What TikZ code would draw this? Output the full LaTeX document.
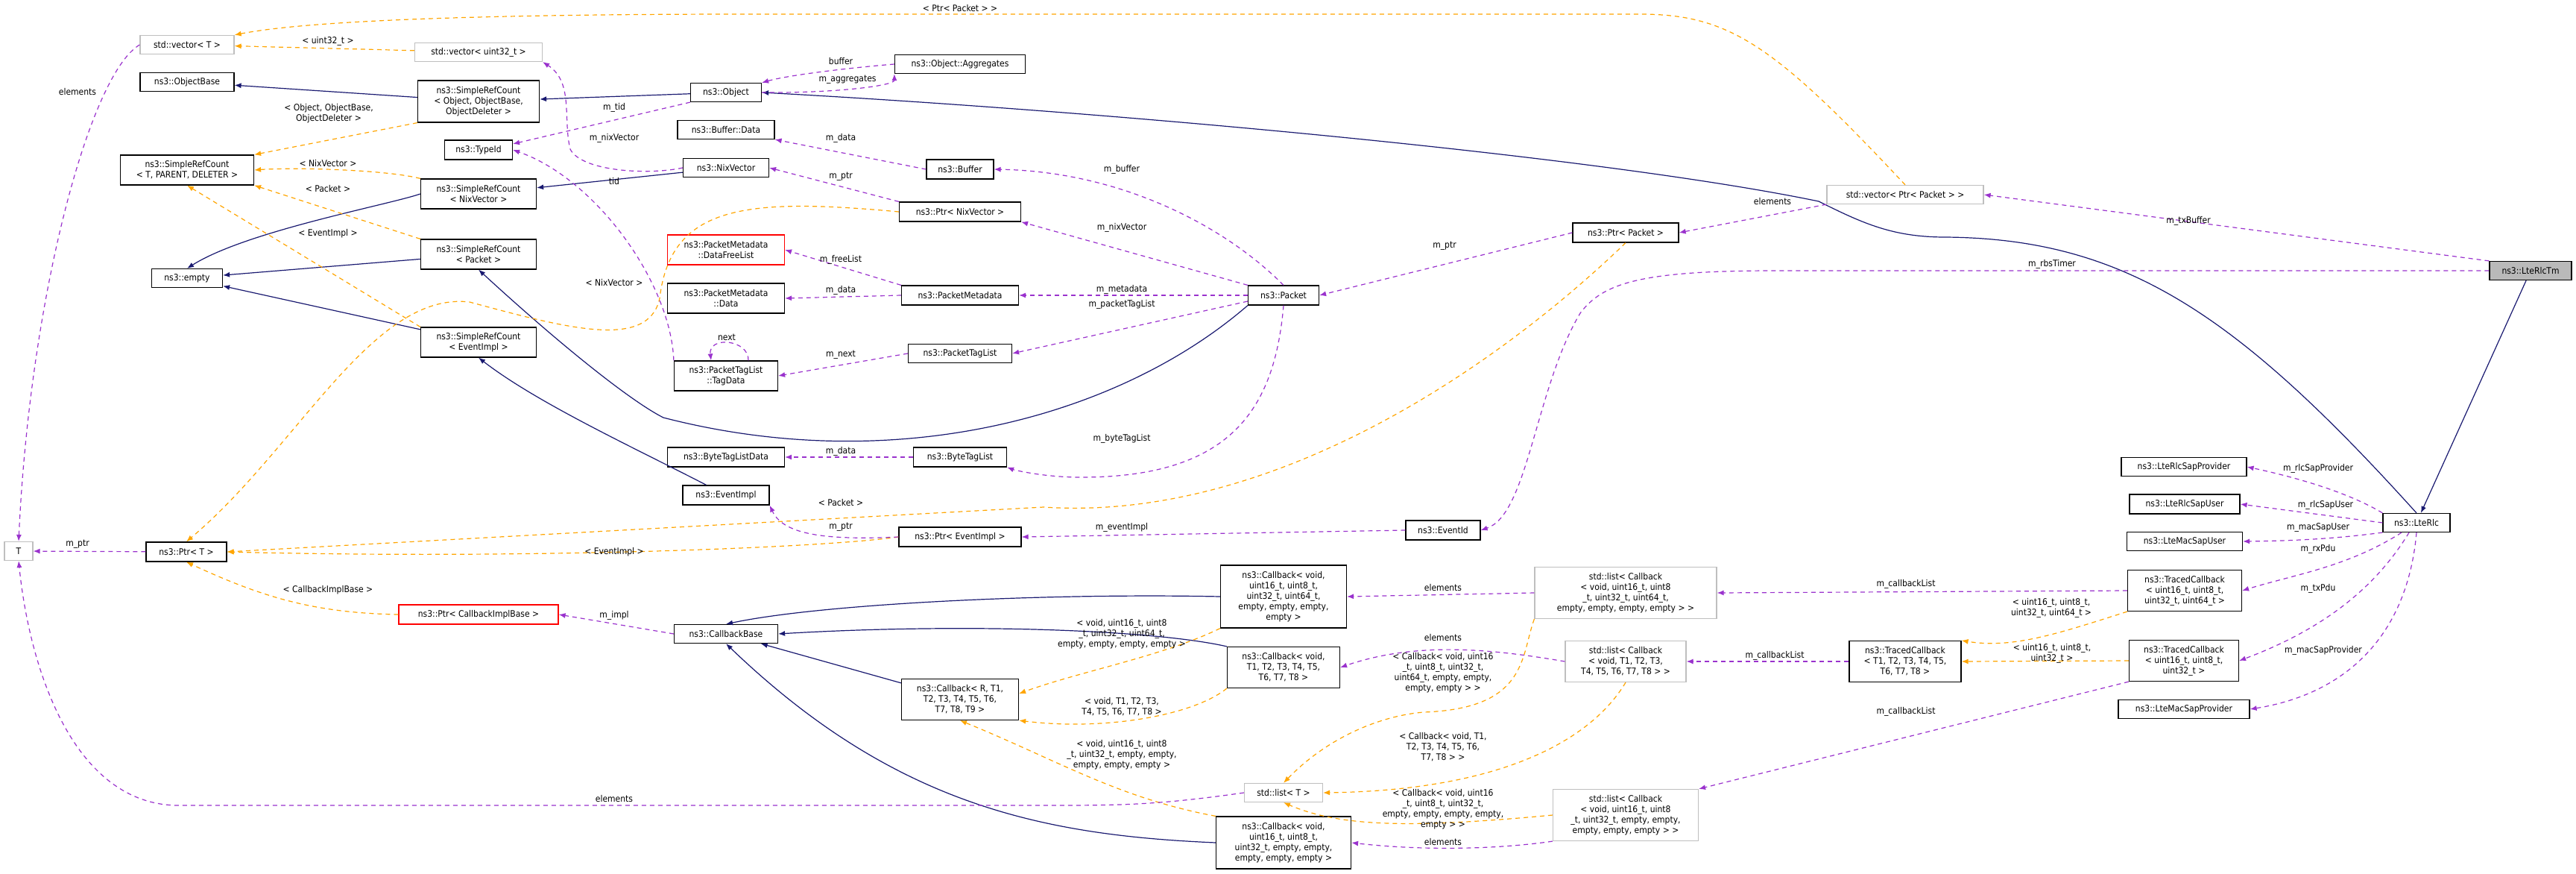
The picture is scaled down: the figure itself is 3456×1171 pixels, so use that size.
\documentclass[tikz,border=0pt]{standalone}
\usepackage{fontspec}
\setmainfont{DejaVu Sans Condensed}
\usetikzlibrary{arrows.meta}
\definecolor{inh}{HTML}{191970}
\definecolor{mem}{HTML}{9A32CD}
\definecolor{tpl}{HTML}{FFA500}
\definecolor{gbd}{HTML}{BFBFBF}
\tikzset{
 every node/.style={font=\fontsize{12}{14}\selectfont},
 box/.style={draw=black,line width=1.2pt,fill=white,inner sep=1pt,align=center},
 gbox/.style={box,draw=gbd},
 rbox/.style={box,draw=red},
 lbl/.style={inner sep=0pt,align=center,fill=none},
 tip/.style={-{Latex[length=9pt,width=7pt]}},
 ih/.style={tip,draw=inh,line width=1.2pt},
 mb/.style={tip,draw=mem,line width=1.2pt,dash pattern=on 6pt off 5pt},
 tp/.style={tip,draw=tpl,line width=1.2pt,dash pattern=on 6pt off 5pt},
}
\newcommand\bx[6]{\node[#1,minimum width=#4pt,minimum height=#5pt] (#2) at #3 {#6};}
\begin{document}
\begin{tikzpicture}[x=1pt,y=-1pt]
\useasboundingbox (0,0) rectangle (3456,1171);
% nodes
\bx{gbox}{vecT}{(251,60)}{126}{25}{std::vector< T >}
\bx{gbox}{vecU}{(642,70)}{171}{25}{std::vector< uint32\_t >}
\bx{box}{objbase}{(251,110)}{126}{25}{ns3::ObjectBase}
\bx{box}{srcobj}{(642,136)}{163}{56}{ns3::SimpleRefCount\\< Object, ObjectBase,\\ObjectDeleter >}
\bx{box}{srctpd}{(251,228)}{179}{40}{ns3::SimpleRefCount\\< T, PARENT, DELETER >}
\bx{box}{typeid}{(642,201)}{91}{26}{ns3::TypeId}
\bx{box}{srcnix}{(642,260)}{155}{40}{ns3::SimpleRefCount\\< NixVector >}
\bx{box}{empty}{(251,373)}{95}{25}{ns3::empty}
\bx{box}{srcpkt}{(642,341)}{155}{40}{ns3::SimpleRefCount\\< Packet >}
\bx{box}{srcev}{(642,459)}{155}{40}{ns3::SimpleRefCount\\< EventImpl >}
\bx{gbox}{T}{(25,739)}{38}{25}{T}
\bx{box}{ptrT}{(250,740)}{108}{26}{ns3::Ptr< T >}
\bx{rbox}{ptrcib}{(642,824)}{214}{26}{ns3::Ptr< CallbackImplBase >}
\bx{box}{object}{(974,124)}{95}{25}{ns3::Object}
\bx{box}{aggr}{(1288,86)}{175}{25}{ns3::Object::Aggregates}
\bx{box}{bufdata}{(974,174)}{130}{25}{ns3::Buffer::Data}
\bx{box}{nix}{(974,225)}{115}{25}{ns3::NixVector}
\bx{box}{buffer}{(1288,227)}{90}{26}{ns3::Buffer}
\bx{box}{ptrnix}{(1288,284)}{163}{26}{ns3::Ptr< NixVector >}
\bx{rbox}{freelist}{(974,335)}{157}{40}{ns3::PacketMetadata\\::DataFreeList}
\bx{box}{pmdata}{(974,400)}{157}{40}{ns3::PacketMetadata\\::Data}
\bx{box}{pm}{(1288,396)}{157}{26}{ns3::PacketMetadata}
\bx{box}{tagdata}{(974,504)}{139}{40}{ns3::PacketTagList\\::TagData}
\bx{box}{ptl}{(1288,474)}{139}{25}{ns3::PacketTagList}
\bx{box}{packet}{(1722,396)}{95}{26}{ns3::Packet}
\bx{box}{btld}{(974,613)}{157}{26}{ns3::ByteTagListData}
\bx{box}{btl}{(1288,613)}{125}{26}{ns3::ByteTagList}
\bx{box}{evimpl}{(974,664)}{116}{26}{ns3::EventImpl}
\bx{box}{ptrev}{(1288,720)}{164}{26}{ns3::Ptr< EventImpl >}
\bx{box}{cbbase}{(974,850)}{139}{25}{ns3::CallbackBase}
\bx{box}{cbR}{(1288,938)}{157}{55}{ns3::Callback< R, T1,\\T2, T3, T4, T5, T6,\\T7, T8, T9 >}
\bx{box}{cb64}{(1722,800)}{169}{84}{ns3::Callback< void,\\uint16\_t, uint8\_t,\\uint32\_t, uint64\_t,\\empty, empty, empty,\\empty >}
\bx{box}{cbT}{(1722,895)}{151}{55}{ns3::Callback< void,\\T1, T2, T3, T4, T5,\\T6, T7, T8 >}
\bx{box}{cbE}{(1722,1130)}{181}{70}{ns3::Callback< void,\\uint16\_t, uint8\_t,\\uint32\_t, empty, empty,\\empty, empty, empty >}
\bx{gbox}{listT}{(1722,1063)}{105}{25}{std::list< T >}
\bx{gbox}{vecpp}{(2556,261)}{210}{25}{std::vector< Ptr< Packet > >}
\bx{box}{ptrpkt}{(2181,312)}{142}{26}{ns3::Ptr< Packet >}
\bx{box}{evid}{(1936,711)}{100}{26}{ns3::EventId}
\bx{gbox}{l64}{(2181,795)}{244}{69}{std::list< Callback\\< void, uint16\_t, uint8\\\_t, uint32\_t, uint64\_t,\\empty, empty, empty, empty > >}
\bx{gbox}{lT}{(2181,887)}{162}{55}{std::list< Callback\\< void, T1, T2, T3,\\T4, T5, T6, T7, T8 > >}
\bx{gbox}{lE}{(2181,1093)}{195}{69}{std::list< Callback\\< void, uint16\_t, uint8\\\_t, uint32\_t, empty, empty,\\empty, empty, empty > >}
\bx{box}{tcT}{(2556,887)}{150}{55}{ns3::TracedCallback\\< T1, T2, T3, T4, T5,\\T6, T7, T8 >}
\bx{box}{tc64}{(2931,792)}{153}{55}{ns3::TracedCallback\\< uint16\_t, uint8\_t,\\uint32\_t, uint64\_t >}
\bx{box}{tc32}{(2930,886)}{147}{55}{ns3::TracedCallback\\< uint16\_t, uint8\_t,\\uint32\_t >}
\bx{box}{sapP}{(2930,626)}{168}{25}{ns3::LteRlcSapProvider}
\bx{box}{sapU}{(2931,676)}{148}{26}{ns3::LteRlcSapUser}
\bx{box}{macU}{(2931,726)}{155}{25}{ns3::LteMacSapUser}
\bx{box}{macP}{(2930,951)}{176}{25}{ns3::LteMacSapProvider}
\bx{box}{lterlc}{(3242,701)}{90}{25}{ns3::LteRlc}
\node[box,fill=gray!55,minimum width=110pt,minimum height=25pt] (rlctm) at (3395,363) {ns3::LteRlcTm};

% inheritance
\draw[ih] (srcobj) -- (objbase);
\draw[ih] (object) -- (srcobj);
\draw[ih] (srcnix.west) .. controls (520,275) and (330,310) .. (empty.north);
\draw[ih] (srcpkt) -- (empty);
\draw[ih] (srcev) -- (empty);
\draw[ih] (nix) -- (srcnix);
\draw[ih] (packet.south west) .. controls (1500,560) and (1200,640) .. (890,560) .. controls (850,540) and (760,470) .. (srcpkt.south);
\draw[ih] (evimpl) .. controls (850,600) and (720,540) .. (srcev.south);
\draw[ih] (lterlc.north) .. controls (3000,420) and (2850,320) .. (2610,318) .. controls (2540,318) and (2500,300) .. (2440,270) .. controls (2150,210) and (1500,150) .. (object.east);
\draw[ih] (rlctm) -- (lterlc);
\draw[ih] (cb64.west) .. controls (1400,795) and (1100,810) .. (cbbase.north);
\draw[ih] (cbT.north west) .. controls (1550,845) and (1300,835) .. (cbbase.east);
\draw[ih] (cbR) -- (cbbase);
\draw[ih] (cbE.west) .. controls (1400,1120) and (1200,1080) .. (cbbase.south);

% templates
\draw[tp] (srcobj.south west) -- (srctpd.north east) node[lbl,pos=0.45,above=8pt] {};
\node[lbl] (l1) at (441,152) {< Object, ObjectBase,\\ObjectDeleter >};
\draw[tp] (srcnix.north west) .. controls (520,228) and (400,224) .. (srctpd.east);
\node[lbl] (l2) at (440,219) {< NixVector >};
\draw[tp] (srcpkt.north west) -- (srctpd.south east);
\node[lbl] (l3) at (440,253) {< Packet >};
\draw[tp] (srcev.north west) -- (srctpd.south);
\node[lbl] (l4) at (440,313) {< EventImpl >};
\draw[tp] (vecU) -- (vecT);
\node[lbl] (l5) at (440,55) {< uint32\_t >};
\draw[tp] (vecpp.north) .. controls (2380,60) and (2320,19) .. (2200,19) -- (1000,19) .. controls (600,19) and (400,30) .. (vecT.north east);
\node[lbl] (l6) at (1288,11) {< Ptr< Packet > >};
\draw[tp] (ptrnix.west) .. controls (1000,265) and (900,275) .. (885,400) .. controls (870,470) and (760,440) .. (630,405) .. controls (500,390) and (400,600) .. (ptrT.north);
\node[lbl] (l7) at (824,379) {< NixVector >};
\draw[tp] (ptrpkt.south) .. controls (2000,500) and (1700,700) .. (1400,680) -- (ptrT.east);
\node[lbl] (l8) at (1128,674) {< Packet >};
\draw[tp] (ptrev.west) .. controls (1100,735) and (700,750) .. (ptrT.east);
\node[lbl] (l9) at (824,740) {< EventImpl >};
\draw[tp] (ptrcib.west) .. controls (420,822) and (350,800) .. (ptrT.south);
\node[lbl] (l10) at (440,791) {< CallbackImplBase >};
\draw[tp] (cb64.south west) .. controls (1560,880) and (1450,900) .. (cbR.east |- 0,930);
\node[lbl] (l11) at (1505,850) {< void, uint16\_t, uint8\\\_t, uint32\_t, uint64\_t,\\empty, empty, empty, empty >};
\draw[tp] (cbT.south west) .. controls (1600,960) and (1480,980) .. (cbR.south east);
\node[lbl] (l12) at (1505,948) {< void, T1, T2, T3,\\T4, T5, T6, T7, T8 >};
\draw[tp] (cbE.north west) .. controls (1500,1070) and (1420,1020) .. (cbR.south);
\node[lbl] (l13) at (1505,1012) {< void, uint16\_t, uint8\\\_t, uint32\_t, empty, empty,\\empty, empty, empty >};
\draw[tp] (l64.south west) .. controls (2040,880) and (2050,950) .. (1910,955) .. controls (1850,960) and (1780,990) .. (listT.north);
\node[lbl] (l14) at (1936,902) {< Callback< void, uint16\\\_t, uint8\_t, uint32\_t,\\uint64\_t, empty, empty,\\empty, empty > >};
\draw[tp] (lT.south) .. controls (2130,1000) and (2000,1060) .. (listT.east);
\node[lbl] (l15) at (1936,1002) {< Callback< void, T1,\\T2, T3, T4, T5, T6,\\T7, T8 > >};
\draw[tp] (lE.west) .. controls (1900,1110) and (1800,1110) .. (listT.south);
\node[lbl] (l16) at (1936,1085) {< Callback< void, uint16\\\_t, uint8\_t, uint32\_t,\\empty, empty, empty, empty,\\empty > >};
\draw[tp] (tc64.south west) .. controls (2760,850) and (2700,870) .. (tcT.north east);
\node[lbl] (l17) at (2752,815) {< uint16\_t, uint8\_t,\\uint32\_t, uint64\_t >};
\draw[tp] (tc32.west) -- (tcT.east);
\node[lbl] (l18) at (2753,876) {< uint16\_t, uint8\_t,\\uint32\_t >};

% members
\draw[mb] (vecT.west) .. controls (120,100) and (40,400) .. (T.north);
\node[lbl] (m1) at (104,123) {elements};
\draw[mb] (ptrT) -- (T);
\node[lbl] (m2) at (104,730) {m\_ptr};
\draw[mb] (listT.west) .. controls (1550,1080) and (1500,1080) .. (1400,1080) -- (240,1080) .. controls (100,1080) and (40,900) .. (T.south);
\node[lbl] (m3) at (824,1071) {elements};
\draw[mb] (nix.west) .. controls (870,235) and (780,230) .. (765,200) .. controls (755,160) and (770,110) .. (vecU.south east);
\node[lbl] (m4) at (824,185) {m\_nixVector};
\draw[mb] (object.south west) -- (typeid.east |- 0,193);
\node[lbl] (m5) at (824,144) {m\_tid};
\draw[mb] (tagdata.north west) .. controls (900,380) and (800,240) .. (typeid.east);
\node[lbl] (m6) at (824,243) {tid};
\draw[mb] (aggr.west) .. controls (1150,90) and (1060,100) .. (object.north east);
\node[lbl] (m7) at (1128,82) {buffer};
\draw[mb] (object.east) .. controls (1120,125) and (1200,115) .. (aggr.south west);
\node[lbl] (m8) at (1137,107) {m\_aggregates};
\draw[mb] (buffer.west) -- (bufdata.south east);
\node[lbl] (m9) at (1128,185) {m\_data};
\draw[mb] (packet.north) .. controls (1640,300) and (1500,230) .. (buffer.east);
\node[lbl] (m10) at (1505,227) {m\_buffer};
\draw[mb] (ptrnix.north west) -- (nix.east);
\node[lbl] (m11) at (1128,237) {m\_ptr};
\draw[mb] (packet.north west) -- (ptrnix.south east);
\node[lbl] (m12) at (1505,305) {m\_nixVector};
\draw[mb] (pm.north west) -- (freelist.east);
\node[lbl] (m13) at (1128,348) {m\_freeList};
\draw[mb] (pm.west) -- (pmdata.east);
\node[lbl] (m14) at (1128,389) {m\_data};
\draw[mb] (packet.west) -- (pm.east);
\node[lbl] (m15) at (1505,388) {m\_metadata};
\draw[mb] (packet.west |- 0,404) -- (ptl.east);
\node[lbl] (m16) at (1505,408) {m\_packetTagList};
\draw[mb] (ptl.west) -- (tagdata.east);
\node[lbl] (m17) at (1128,476) {m\_next};
\draw[mb] ([xshift=30pt]tagdata.north) .. controls (1005,455) and (950,450) .. ([xshift=-20pt]tagdata.north);
\node[lbl] (m18) at (975,452) {next};
\draw[mb] (packet.south) .. controls (1710,550) and (1650,640) .. (1450,640) .. controls (1400,640) and (1360,630) .. (btl.south east);
\node[lbl] (m19) at (1505,588) {m\_byteTagList};
\draw[mb] (btl) -- (btld);
\node[lbl] (m20) at (1128,605) {m\_data};
\draw[mb] (ptrpkt.west) -- (packet.east);
\node[lbl] (m21) at (1938,330) {m\_ptr};
\draw[mb] (vecpp.south west) -- (ptrpkt.east);
\node[lbl] (m22) at (2378,270) {elements};
\draw[mb] (rlctm.north west) -- (vecpp.east);
\node[lbl] (m23) at (2936,296) {m\_txBuffer};
\draw[mb] (rlctm.west) -- (2380,363) .. controls (2200,363) and (2150,380) .. (2120,420) .. controls (2060,520) and (2050,690) .. (evid.east);
\node[lbl] (m24) at (2753,354) {m\_rbsTimer};
\draw[mb] (evid.west) -- (ptrev.east);
\node[lbl] (m25) at (1505,707) {m\_eventImpl};
\draw[mb] (ptrev.west) .. controls (1100,725) and (1050,715) .. (evimpl.south east);
\node[lbl] (m26) at (1128,707) {m\_ptr};
\draw[mb] (cbbase.west) -- (ptrcib.east);
\node[lbl] (m27) at (824,825) {m\_impl};
\draw[mb] (l64.west) -- (cb64.east);
\node[lbl] (m28) at (1936,788) {elements};
\draw[mb] (lT.west) .. controls (2000,870) and (1900,860) .. (cbT.east);
\node[lbl] (m29) at (1936,855) {elements};
\draw[mb] (lE.south west) .. controls (2000,1140) and (1900,1140) .. (cbE.east);
\node[lbl] (m30) at (1936,1129) {elements};
\draw[mb] (tc64.west) -- (l64.east);
\node[lbl] (m31) at (2557,783) {m\_callbackList};
\draw[mb] (tcT.west) -- (lT.east);
\node[lbl] (m32) at (2381,879) {m\_callbackList};
\draw[mb] (tc32.south west) -- (lE.north east);
\node[lbl] (m33) at (2557,954) {m\_callbackList};
\draw[mb] (lterlc.north west) .. controls (3150,660) and (3080,640) .. (sapP.east);
\node[lbl] (m34) at (3110,628) {m\_rlcSapProvider};
\draw[mb] (lterlc.west) -- (sapU.east);
\node[lbl] (m35) at (3120,677) {m\_rlcSapUser};
\draw[mb] (lterlc.south west) .. controls (3150,720) and (3100,725) .. (macU.east);
\node[lbl] (m36) at (3110,707) {m\_macSapUser};
\draw[mb] ([xshift=-20pt]lterlc.south) .. controls (3150,760) and (3080,770) .. (tc64.east);
\node[lbl] (m37) at (3110,736) {m\_rxPdu};
\draw[mb] ([xshift=-10pt]lterlc.south) .. controls (3180,800) and (3100,850) .. (tc32.east);
\node[lbl] (m38) at (3110,789) {m\_txPdu};
\draw[mb] (lterlc.south) .. controls (3230,850) and (3150,930) .. (macP.east);
\node[lbl] (m39) at (3117,872) {m\_macSapProvider};
\end{tikzpicture}
\end{document}
